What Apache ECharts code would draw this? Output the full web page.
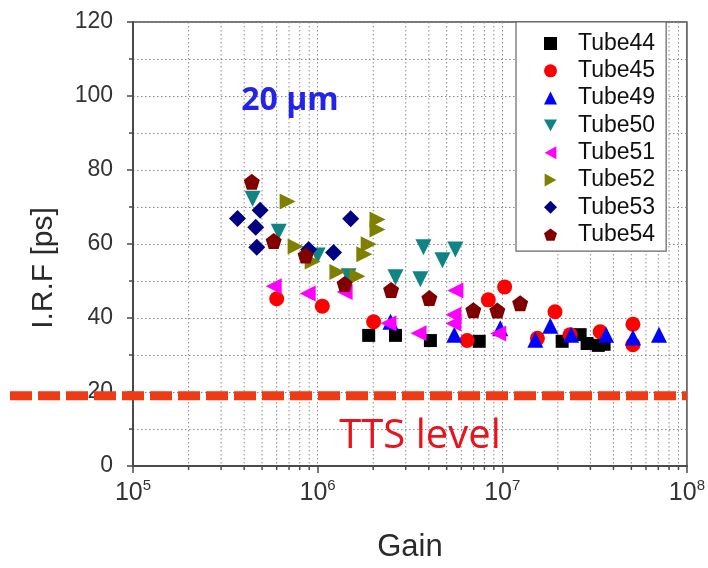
<!DOCTYPE html>
<html>
<head>
<meta charset="utf-8">
<script src="https://cdn.jsdelivr.net/npm/echarts@6/dist/echarts.min.js"></script>
<style>
  html, body { margin: 0; padding: 0; background: #fff; }
  #chart { width: 708px; height: 568px; }
</style>
</head>
<body>
<div id="chart"></div>
<script>
// Instrument response (I.R.F) versus gain for each tube
const tubeNames = ['Tube44', 'Tube45', 'Tube49', 'Tube50', 'Tube51', 'Tube52', 'Tube53', 'Tube54'];

const tube44Gain = [1.89e6, 2.64e6, 4.08e6, 7.5e6, 2.11e7, 2.64e7, 2.88e7, 3.31e7, 3.56e7];
const tube44Irf  = [35.3, 35.3, 33.9, 33.7, 33.7, 35.5, 33.1, 32.6, 32.9];

const tube45Gain = [6.0e5, 1.06e6, 2.01e6, 6.45e6, 8.4e6, 1.03e7, 1.55e7, 1.93e7, 2.33e7, 3.39e7, 5.1e7, 5.1e7];
const tube45Irf  = [45.2, 43.2, 39.0, 33.9, 44.9, 48.4, 34.5, 41.7, 35.5, 36.3, 38.3, 32.8];

const tube49Gain = [2.48e6, 5.5e6, 9.75e6, 1.51e7, 1.82e7, 2.36e7, 3.65e7, 5.1e7, 7.06e7];
const tube49Irf  = [39.0, 35.5, 37.2, 34.1, 37.9, 35.5, 35.5, 34.7, 35.5];

const tube50Gain = [4.44e5, 6.15e5, 1.0e6, 1.47e6, 2.64e6, 3.6e6, 3.74e6, 4.74e6, 5.57e6];
const tube50Irf  = [72.2, 63.3, 56.9, 51.3, 51.0, 50.5, 59.1, 55.6, 58.5];

const tube51Gain = [5.78e5, 8.83e5, 1.4e6, 2.42e6, 3.52e6, 5.57e6, 5.44e6, 5.44e6, 9.5e6];
const tube51Irf  = [48.6, 46.6, 47.0, 38.6, 35.9, 47.4, 40.9, 38.5, 35.8];

const tube52Gain = [6.88e5, 7.6e5, 9.4e5, 1.28e6, 1.64e6, 1.79e6, 1.89e6, 2.11e6, 2.11e6];
const tube52Irf  = [71.5, 59.3, 55.3, 52.4, 51.3, 57.2, 59.9, 63.9, 66.6];

const tube53Gain = [3.68e5, 4.88e5, 4.62e5, 4.68e5, 8.94e5, 1.22e6, 1.51e6];
const tube53Irf  = [66.9, 69.1, 64.5, 59.1, 58.5, 57.7, 66.8];

const tube54Gain = [4.4e5, 5.78e5, 8.61e5, 1.4e6, 2.5e6, 4.03e6, 6.97e6, 9.4e6, 1.25e7];
const tube54Irf  = [76.8, 60.8, 56.9, 49.2, 47.6, 45.4, 42.1, 42.0, 44.0];

// Axis ranges, tick values and the TTS reference level
const gainMin = 1e5;
const gainMax = 1e8;
const irfMin = 0;
const irfMax = 120;
const irfStep = 20;
const ttsLevel = 19;
const decadeMultipliers = [2, 3, 4, 5, 6, 7, 8, 9];

const minorGain = [];
for (let d = gainMin; d < gainMax; d *= 10) {
  decadeMultipliers.forEach(m => minorGain.push(Math.round(m * d)));
}

// Marker shapes
const pentagon = 'path://M0,-1L0.951,-0.309L0.588,0.809L-0.588,0.809L-0.951,-0.309Z';
const triDown = 'path://M0,0L10,0L5,9Z';
const triLeft = 'path://M9,0L9,10L0,5Z';
const triRight = 'path://M0,0L9,5L0,10Z';

const seriesStyle = [
  { gain: tube44Gain, irf: tube44Irf, color: '#000000', symbol: 'rect', size: 13, rotate: 0, icon: 'rect' },
  { gain: tube45Gain, irf: tube45Irf, color: '#ff0000', symbol: 'circle', size: 15, rotate: 0, icon: 'circle' },
  { gain: tube49Gain, irf: tube49Irf, color: '#0000ff', symbol: 'triangle', size: 16, rotate: 0, icon: 'triangle' },
  { gain: tube50Gain, irf: tube50Irf, color: '#108484', symbol: 'triangle', size: 16, rotate: 180, icon: triDown },
  { gain: tube51Gain, irf: tube51Irf, color: '#ff00ff', symbol: 'triangle', size: 16, rotate: 90, icon: triLeft },
  { gain: tube52Gain, irf: tube52Irf, color: '#808000', symbol: 'triangle', size: 16, rotate: -90, icon: triRight },
  { gain: tube53Gain, irf: tube53Irf, color: '#000080', symbol: 'diamond', size: 17, rotate: 0, icon: 'diamond' },
  { gain: tube54Gain, irf: tube54Irf, color: '#800000', symbol: pentagon, size: 16, rotate: 0, icon: pentagon }
];

const gridColor = '#8a8a8a';
const gridLineStyle = { color: gridColor, type: [1.5, 2.5], width: 1 };
const axisColor = '#4a4a4a';
const labelFont = '"Liberation Sans", Arial, sans-serif';

const scatterSeries = seriesStyle.map((s, i) => ({
  name: tubeNames[i],
  type: 'scatter',
  symbol: s.symbol,
  symbolSize: s.size,
  symbolRotate: s.rotate,
  itemStyle: { color: s.color, opacity: 1 },
  z: 3,
  data: s.gain.map((g, k) => [g, s.irf[k]])
}));

// Minor vertical grid lines and minor ticks at 2..9 of every decade
const minorGridSeries = {
  type: 'custom',
  silent: true,
  z: 1,
  clip: false,
  data: minorGain.map(v => [v, irfMin]),
  renderItem: function (params, api) {
    const bottom = api.coord([api.value(0), irfMin]);
    const top = api.coord([api.value(0), irfMax]);
    return {
      type: 'group',
      children: [
        {
          type: 'line',
          shape: { x1: bottom[0], y1: top[1], x2: bottom[0], y2: bottom[1] },
          style: { stroke: gridColor, lineDash: [1.5, 2.5], lineWidth: 1 }
        },
        {
          type: 'line',
          shape: { x1: bottom[0], y1: bottom[1], x2: bottom[0], y2: bottom[1] + 4 },
          style: { stroke: axisColor, lineWidth: 1.5 }
        }
      ]
    };
  }
};

const chart = echarts.init(document.getElementById('chart'), null, { renderer: 'canvas' });

chart.setOption({
  animation: false,
  backgroundColor: '#ffffff',
  grid: {
    left: 133, right: 20, top: 22, bottom: 97,
    show: true, borderColor: axisColor, borderWidth: 1.5, backgroundColor: 'transparent'
  },
  legend: {
    data: tubeNames.map((n, i) => ({ name: n, icon: seriesStyle[i].icon })),
    orient: 'vertical',
    left: 516,
    top: 22,
    padding: [10, 11, 5, 28],
    itemWidth: 13,
    itemHeight: 13,
    itemGap: 4.3,
    backgroundColor: '#ffffff',
    borderColor: '#666666',
    borderWidth: 1.2,
    selectedMode: false,
    textStyle: {
      fontFamily: labelFont, fontSize: 23, lineHeight: 23, color: '#111111',
      padding: [0, 0, 0, 16]
    }
  },
  xAxis: {
    type: 'log',
    logBase: 10,
    min: gainMin,
    max: gainMax,
    name: 'Gain',
    nameLocation: 'middle',
    nameGap: 66,
    nameTextStyle: { fontFamily: labelFont, fontSize: 31, color: '#2a2a2a' },
    axisLine: { lineStyle: { color: axisColor, width: 2 } },
    axisTick: { show: true, inside: false, length: 7, lineStyle: { color: axisColor, width: 1.5 } },
    splitLine: { show: true, lineStyle: gridLineStyle },
    axisLabel: {
      margin: 12,
      formatter: function (v) {
        return '{b|10}{s|' + Math.round(Math.log10(v)) + '}';
      },
      rich: {
        b: { fontFamily: labelFont, fontSize: 25, color: '#333333', lineHeight: 30 },
        s: { fontFamily: labelFont, fontSize: 15, color: '#333333', lineHeight: 15, verticalAlign: 'top' }
      }
    }
  },
  yAxis: {
    type: 'value',
    min: irfMin,
    max: irfMax,
    interval: irfStep,
    name: 'I.R.F [ps]',
    nameLocation: 'middle',
    nameGap: 74,
    nameTextStyle: { fontFamily: labelFont, fontSize: 30, color: '#2a2a2a', padding: [0, 48, 0, 0] },
    axisLine: { show: true, lineStyle: { color: axisColor, width: 2 } },
    axisTick: { show: true, inside: false, length: 6, lineStyle: { color: axisColor, width: 1.5 } },
    minorTick: { show: true, splitNumber: 2, length: 4, lineStyle: { color: axisColor, width: 1.5 } },
    splitLine: { show: true, lineStyle: gridLineStyle },
    minorSplitLine: { show: true, lineStyle: gridLineStyle },
    axisLabel: { margin: 20, fontFamily: labelFont, fontSize: 23, color: '#333333' }
  },
  series: [minorGridSeries].concat(scatterSeries)
});

// Dashed TTS reference line (runs across the axis labels) and annotations
const rightEdge = chart.convertToPixel({ gridIndex: 0 }, [gainMax, ttsLevel]);
chart.setOption({
  graphic: [
    {
      type: 'line',
      z: 100,
      silent: true,
      shape: { x1: 10, y1: rightEdge[1], x2: rightEdge[0], y2: rightEdge[1] },
      style: { stroke: '#ef3a16', lineWidth: 9, lineDash: [22, 6] }
    },
    {
      type: 'text',
      z: 100,
      x: 420,
      y: 437,
      style: {
        text: 'TTS level',
        fontFamily: '"Open Sans", sans-serif',
        fontSize: 40,
        fill: '#e8141c',
        align: 'center',
        verticalAlign: 'middle'
      }
    },
    {
      type: 'text',
      z: 100,
      x: 290,
      y: 101,
      style: {
        text: '20 µm',
        fontFamily: '"Open Sans", sans-serif',
        fontWeight: 'bold',
        fontSize: 32,
        fill: '#2424e6',
        align: 'center',
        verticalAlign: 'middle'
      }
    }
  ]
});
</script>
</body>
</html>
